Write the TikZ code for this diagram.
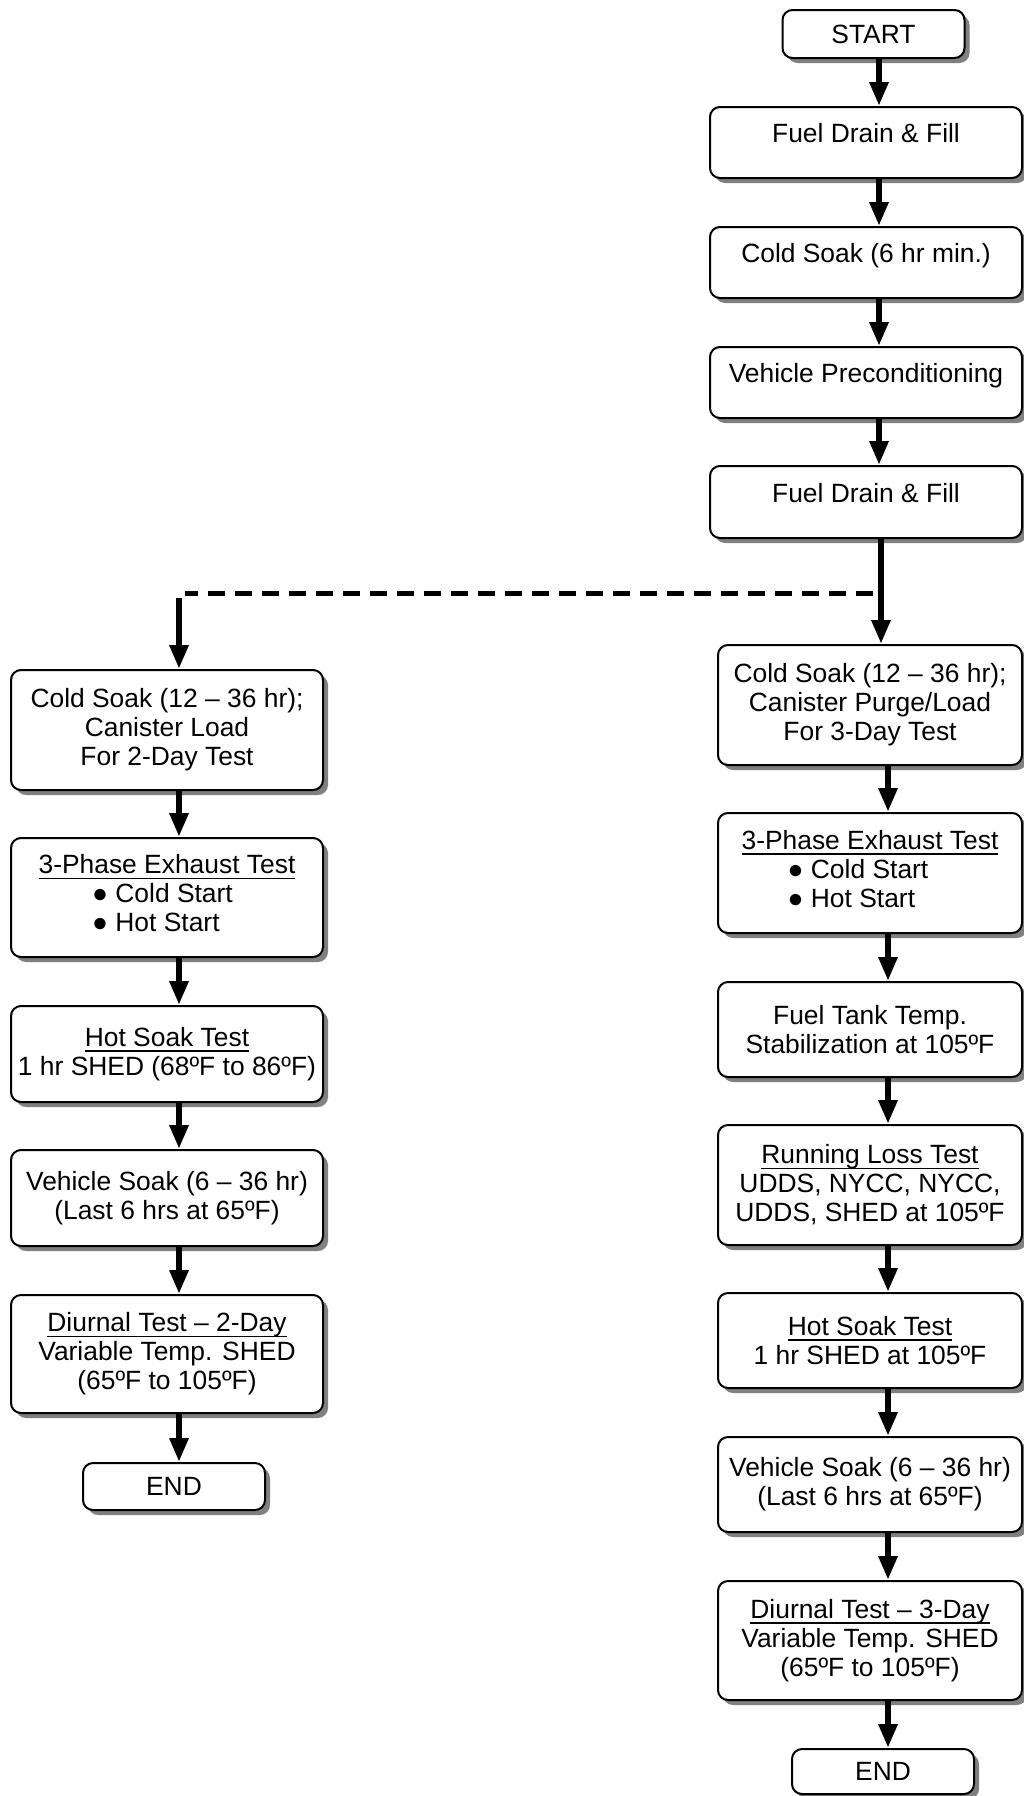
\documentclass[tikz,border=0pt]{standalone}
\usepackage{fontspec}
\setmainfont{Liberation Sans}
\usetikzlibrary{arrows.meta,shadows}
\newsavebox{\myulbox}
\newcommand{\myuline}[1]{\sbox{\myulbox}{#1}\rlap{\rule[-5.6pt]{\wd\myulbox}{1.8pt}}\usebox{\myulbox}}
\newcommand{\flowfont}{\fontsize{26.4}{29}\selectfont}
\newcommand{\bul}{●\ }
\tikzset{
  box/.style={draw=black, line width=2pt, rounded corners=10pt, fill=white,
    drop shadow={shadow xshift=5pt, shadow yshift=-5pt, fill=black!50, opacity=1},
    align=center, inner sep=0pt, font=\flowfont},
  upper/.style={text height=19pt, text depth=19pt},
  wide/.style={minimum width=312pt},
  rwide/.style={minimum width=304pt},
  small/.style={minimum width=182pt},
  arr/.style={line width=6pt, -{Triangle[length=24pt,width=18pt]}},
  dashln/.style={line width=5pt, dash pattern=on 17pt off 10pt}
}
\begin{document}
\begin{tikzpicture}[x=1pt,y=-1pt]
\useasboundingbox (0,0) rectangle (1024,1796);
% right column
\node[box, small, minimum height=48pt] (start) at (873.5,34) {START};
\node[box, wide, minimum height=71pt, upper] (fd1) at (866,142.5) {Fuel Drain \& Fill};
\node[box, wide, minimum height=71pt, upper] (cs6) at (866,262.5) {Cold Soak (6 hr min.)};
\node[box, wide, minimum height=71pt, upper] (vp) at (866,382.5) {Vehicle Preconditioning};
\node[box, wide, minimum height=72pt, upper] (fd2) at (866,502) {Fuel Drain \& Fill};
\node[box, rwide, minimum height=120pt] (rcs) at (870,705) {Cold Soak (12 – 36 hr);\\Canister Purge/Load\\For 3-Day Test};
\node[box, rwide, minimum height=120pt] (r3p) at (870,873) {\myuline{3-Phase Exhaust Test}\\\begin{tabular}[t]{@{}l@{}}\bul Cold Start\\\bul Hot Start\end{tabular}\hspace*{24pt}};
\node[box, rwide, minimum height=95pt] (ftt) at (870,1029.5) {Fuel Tank Temp.\\Stabilization at 105ºF};
\node[box, rwide, minimum height=120pt] (rl) at (870,1185) {\myuline{Running Loss Test}\\UDDS, NYCC, NYCC,\\UDDS, SHED at 105ºF};
\node[box, rwide, minimum height=95pt] (rhs) at (870,1340.5) {\myuline{Hot Soak Test}\\1 hr SHED at 105ºF};
\node[box, rwide, minimum height=95pt] (rvs) at (870,1484.5) {Vehicle Soak (6 – 36 hr)\\(Last 6 hrs at 65ºF)};
\node[box, rwide, minimum height=119pt] (rd) at (870,1640.5) {\myuline{Diurnal Test – 3-Day}\\Variable Temp. SHED\\(65ºF to 105ºF)};
\node[box, small, minimum height=45pt] (rend) at (883,1771.5) {END};
% left column
\node[box, wide, minimum height=120pt] (lcs) at (167,730) {Cold Soak (12 – 36 hr);\\Canister Load\\For 2-Day Test};
\node[box, wide, minimum height=119pt] (l3p) at (167,897.5) {\myuline{3-Phase Exhaust Test}\\\begin{tabular}[t]{@{}l@{}}\bul Cold Start\\\bul Hot Start\end{tabular}\hspace*{9pt}};
\node[box, wide, minimum height=96pt] (lhs) at (167,1054) {\myuline{Hot Soak Test}\\1 hr SHED (68ºF to 86ºF)};
\node[box, wide, minimum height=96pt] (lvs) at (167,1198) {Vehicle Soak (6 – 36 hr)\\(Last 6 hrs at 65ºF)};
\node[box, wide, minimum height=118pt] (ld) at (167,1354) {\myuline{Diurnal Test – 2-Day}\\Variable Temp. SHED\\(65ºF to 105ºF)};
\node[box, small, minimum height=47pt] (lend) at (174,1486.5) {END};
% connector guides
\coordinate (ax1) at (879,0);
\coordinate (ax2) at (881,0);
\coordinate (ax3) at (888,0);
\coordinate (lx) at (179,0);
\coordinate (dR) at (873,593);
\coordinate (dL) at (185,593);
\coordinate (lturn) at (179,598);
% right arrows
\draw[arr] (start.south -| ax1) -- (fd1.north -| ax1);
\draw[arr] (fd1.south -| ax1) -- (cs6.north -| ax1);
\draw[arr] (cs6.south -| ax1) -- (vp.north -| ax1);
\draw[arr] (vp.south -| ax1) -- (fd2.north -| ax1);
\draw[arr] (fd2.south -| ax2) -- (rcs.north -| ax2);
\draw[arr] (rcs.south -| ax3) -- (r3p.north -| ax3);
\draw[arr] (r3p.south -| ax3) -- (ftt.north -| ax3);
\draw[arr] (ftt.south -| ax3) -- (rl.north -| ax3);
\draw[arr] (rl.south -| ax3) -- (rhs.north -| ax3);
\draw[arr] (rhs.south -| ax3) -- (rvs.north -| ax3);
\draw[arr] (rvs.south -| ax3) -- (rd.north -| ax3);
\draw[arr] (rd.south -| ax3) -- (rend.north -| ax3);
% dashed branch
\draw[dashln] (dR) -- (dL);
\draw[arr] (lturn) -- (lcs.north -| lturn);
% left arrows
\draw[arr] (lcs.south -| lx) -- (l3p.north -| lx);
\draw[arr] (l3p.south -| lx) -- (lhs.north -| lx);
\draw[arr] (lhs.south -| lx) -- (lvs.north -| lx);
\draw[arr] (lvs.south -| lx) -- (ld.north -| lx);
\draw[arr] (ld.south -| lx) -- (lend.north -| lx);
\end{tikzpicture}
\end{document}
